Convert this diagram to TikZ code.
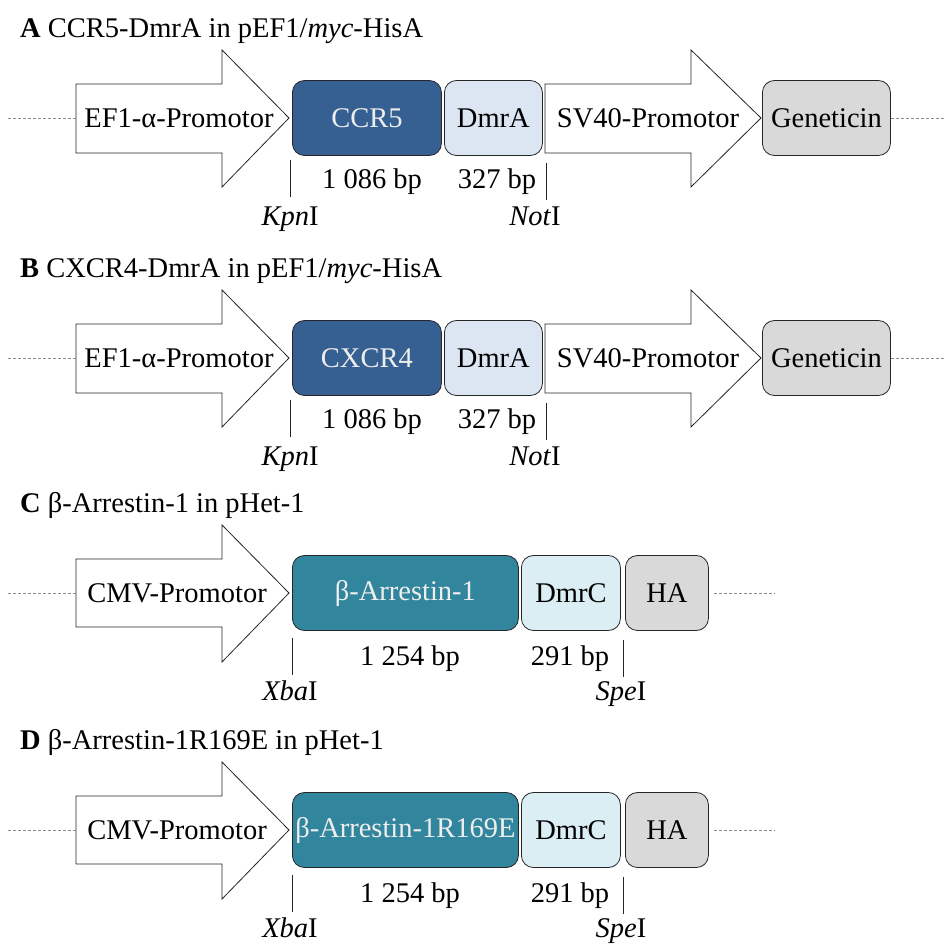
\documentclass[tikz,border=0pt]{standalone}
\usepackage{fontspec}
\setmainfont{Liberation Serif}
\definecolor{ccrblue}{HTML}{376092}
\definecolor{dmralight}{HTML}{DCE6F2}
\definecolor{arrteal}{HTML}{31859C}
\definecolor{dmrclight}{HTML}{DBEEF4}
\definecolor{grayfill}{HTML}{D9D9D9}
\definecolor{boxtext}{HTML}{EEEEEE}
\tikzset{
  bigfont/.style={font=\fontsize{28.5}{33}\selectfont},
  genebox/.style={draw=black!85, line width=0.8pt, rounded corners=12pt, minimum height=75pt, inner sep=0pt, anchor=west, bigfont},
  promo/.style={draw=black!85, line width=0.8pt, fill=white},
  promotext/.style={bigfont, inner sep=0pt},
  sizelabel/.style={bigfont, inner sep=0pt, anchor=base},
  sitelabel/.style={bigfont, inner sep=0pt, anchor=base},
  siteline/.style={draw=black!85, line width=0.8pt},
  backbone/.style={draw=black!45, line width=0.6pt, dash pattern=on 3pt off 2pt},
  titletext/.style={bigfont, inner sep=0pt, anchor=base west},
}
\begin{document}
\begin{tikzpicture}[x=1pt,y=-1pt]
\useasboundingbox (0,0) rectangle (952,945);

% ---------------- Panel A and B ----------------
\foreach \p/\sh/\gene/\gname in {a/0/CCR5/CCR5, b/240/CXCR4/CXCR4}{
\begin{scope}[shift={(0,\sh)}]
  \node[titletext] (\p-title) at (20,37) {\ifnum\sh=0 \textbf{A}\else\textbf{B}\fi{} \gname-DmrA in pEF1/\textit{myc}-HisA};
  % promoter arrow 1
  \draw[promo] (76,84) -- (222,84) -- (222,50) -- (289,118) -- (222,187) -- (222,153) -- (76,153) -- cycle;
  \coordinate (\p-p1l) at (76,118);
  \node[promotext] (\p-ef1) at (179,118) {EF1-α-Promotor};
  % boxes
  \node[genebox, fill=ccrblue, text=boxtext, minimum width=149pt] (\p-gene) at (292,118) {\gene};
  \node[genebox, fill=dmralight, minimum width=98pt] (\p-dmra) at (444,118) {DmrA};
  % promoter arrow 2
  \draw[promo] (545,84) -- (691,84) -- (691,50) -- (761,118) -- (691,187) -- (691,153) -- (545,153) -- cycle;
  \node[promotext] (\p-sv40) at (648,118) {SV40-Promotor};
  \node[genebox, fill=grayfill, minimum width=128pt] (\p-gen) at (762,118) {Geneticin};
  % backbone
  \coordinate (\p-bbl) at (8,118);
  \coordinate (\p-bbr) at (945,118);
  \draw[backbone] (\p-bbl) -- (\p-p1l);
  \draw[backbone] (\p-gen.east) -- (\p-bbr);
  % sites
  \coordinate (\p-s1t) at (290,160); \coordinate (\p-s1b) at (290,197);
  \coordinate (\p-s2t) at (546,163); \coordinate (\p-s2b) at (546,200);
  \draw[siteline] (\p-s1t) -- (\p-s1b);
  \draw[siteline] (\p-s2t) -- (\p-s2b);
  \node[sizelabel] (\p-bp1) at (372,188) {1 086 bp};
  \node[sizelabel] (\p-bp2) at (497,188) {327 bp};
  \node[sitelabel] (\p-kpn) at (290,225) {\textit{Kpn}I};
  \node[sitelabel] (\p-not) at (535,225) {\textit{Not}I};
\end{scope}
}

% ---------------- Panel C and D ----------------
\foreach \p/\sh/\gene in {c/0/β-Arrestin-1, d/237/β-Arrestin-1R169E}{
\begin{scope}[shift={(0,\sh)}]
  \node[titletext] (\p-title) at (20,512) {\ifnum\sh=0 \textbf{C}\else\textbf{D}\fi{} \gene{} in pHet-1};
  \draw[promo] (76,559) -- (222,559) -- (222,525) -- (289,593) -- (222,662) -- (222,627) -- (76,627) -- cycle;
  \coordinate (\p-p1l) at (76,593);
  \node[promotext] (\p-cmv) at (177,593) {CMV-Promotor};
  \node[genebox, fill=arrteal, text=boxtext, minimum width=226pt] (\p-gene) at (292,593) {\gene};
  \node[genebox, fill=dmrclight, minimum width=99pt] (\p-dmrc) at (521,593) {DmrC};
  \node[genebox, fill=grayfill, minimum width=83pt] (\p-ha) at (625,593) {HA};
  \coordinate (\p-bbl) at (8,593);
  \coordinate (\p-bbr) at (775,593);
  \draw[backbone] (\p-bbl) -- (\p-p1l);
  \draw[backbone] ([xshift=5pt]\p-ha.east) -- (\p-bbr);
  \coordinate (\p-s1t) at (292,638); \coordinate (\p-s1b) at (292,675);
  \coordinate (\p-s2t) at (623,640); \coordinate (\p-s2b) at (623,677);
  \draw[siteline] (\p-s1t) -- (\p-s1b);
  \draw[siteline] (\p-s2t) -- (\p-s2b);
  \node[sizelabel] (\p-bp1) at (410,665) {1 254 bp};
  \node[sizelabel] (\p-bp2) at (570,665) {291 bp};
  \node[sitelabel] (\p-xba) at (290,700) {\textit{Xba}I};
  \node[sitelabel] (\p-spe) at (621,700) {\textit{Spe}I};
\end{scope}
}
\end{tikzpicture}
\end{document}
